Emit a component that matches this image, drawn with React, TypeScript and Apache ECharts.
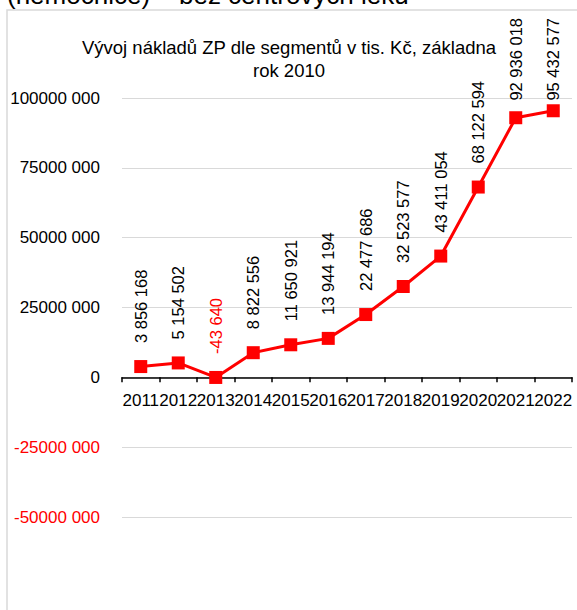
import React, { useEffect, useRef } from "react";
import * as echarts from "echarts";

const years = ["2011", "2012", "2013", "2014", "2015", "2016", "2017", "2018", "2019", "2020", "2021", "2022"];
const costs = [3856168, 5154502, -43640, 8822556, 11650921, 13944194, 22477686, 32523577, 43411054, 68122594, 92936018, 95432577];
const yTicks = { min: -50000000, max: 100000000, interval: 25000000 };
const titleLines = ["Vývoj nákladů ZP dle segmentů v tis. Kč, základna", "rok 2010"];
const headerText = "(nemocnice) – bez centrových léků";

const FONT = "'Liberation Sans', Arial, sans-serif";
const RED = "#ff0000";

function groupSpaces(v: number): string {
  const s = Math.abs(Math.round(v)).toString().replace(/\B(?=(\d{3})+(?!\d))/g, " ");
  return (v < 0 ? "-" : "") + s;
}

function axisFmt(v: number): string {
  if (v === 0) return "0";
  const a = Math.abs(v);
  const hi = Math.floor(a / 1000);
  const lo = (a % 1000).toString().padStart(3, "0");
  return (v < 0 ? "-" : "") + hi + " " + lo;
}

export default function App() {
  const ref = useRef<HTMLDivElement>(null);
  useEffect(() => {
    if (!ref.current) return;
    const chart = echarts.init(ref.current, null, { renderer: "svg" });
    const LABEL_SIZE = 16.5;
    const baseDist = 17;
    const symbol = 13;
    const topLimit = 18;

    const makeData = (dists: number[]) =>
      costs.map((v, i) => ({
        value: v,
        label: { color: v < 0 ? RED : "#000", distance: dists[i] },
      }));

    const option: any = {
      animation: false,
      backgroundColor: "#fff",
      textStyle: { fontFamily: FONT },
      grid: { left: 122, right: 5, top: 98, bottom: 93, containLabel: false },
      graphic: [
        {
          type: "rect",
          z: 0,
          shape: { x: 7, y: 10, width: 700, height: 800 },
          style: { fill: "none", stroke: "#d9d9d9", lineWidth: 1.5 },
        },
        {
          type: "text",
          z: 10,
          x: 7,
          y: -5,
          style: {
            text: headerText,
            fontFamily: FONT,
            fontSize: 26,
            fill: "#000",
            textAlign: "left",
            textVerticalAlign: "middle",
          },
        },
        {
          type: "text",
          z: 10,
          x: 289,
          y: 59,
          style: {
            text: titleLines.join("\n"),
            fontFamily: FONT,
            fontSize: 18.5,
            lineHeight: 23,
            fill: "#000",
            textAlign: "center",
            textVerticalAlign: "middle",
          },
        },
      ],
      xAxis: {
        type: "category",
        data: years,
        boundaryGap: true,
        offset: 0,
        axisLine: { onZero: false, lineStyle: { color: "#000", width: 1.5 } },
        axisTick: { show: true, length: 5, lineStyle: { color: "#000", width: 1.5 } },
        axisLabel: { interval: 0, fontSize: 17, color: "#000", margin: 15, fontFamily: FONT },
        splitLine: { show: false },
      },
      yAxis: {
        type: "value",
        min: yTicks.min,
        max: yTicks.max,
        interval: yTicks.interval,
        axisLine: { show: false },
        axisTick: { show: false },
        axisLabel: {
          fontSize: 17,
          margin: 22,
          fontFamily: FONT,
          formatter: (v: number) => axisFmt(v),
          color: (v: any) => (Number(v) < 0 ? RED : "#000"),
        },
        splitLine: { lineStyle: { color: "#d9d9d9", width: 1 } },
      },
      series: [
        {
          type: "line",
          data: makeData(costs.map(() => baseDist)),
          symbol: "rect",
          symbolSize: symbol,
          showAllSymbol: true,
          lineStyle: { color: RED, width: 3 },
          itemStyle: { color: RED },
          label: {
            show: true,
            position: "top",
            rotate: 90,
            align: "left",
            verticalAlign: "middle",
            fontSize: LABEL_SIZE,
            fontFamily: FONT,
            formatter: (p: any) => groupSpaces(p.value),
          },
          z: 5,
        },
      ],
    };
    chart.setOption(option);

    // move the category axis (line, ticks and labels) onto the zero line
    const zeroY = (chart.convertToPixel({ yAxisIndex: 0 }, 0) as number);
    const minY = (chart.convertToPixel({ yAxisIndex: 0 }, yTicks.min) as number);
    const axisOffset = zeroY - minY;

    // keep rotated value labels inside the chart area (clamped at the top like the original)
    const ctx = document.createElement("canvas").getContext("2d");
    let dists = costs.map(() => baseDist);
    if (ctx) {
      ctx.font = `${LABEL_SIZE}px 'Liberation Sans'`;
      dists = costs.map((v, i) => {
        const px = chart.convertToPixel({ seriesIndex: 0 }, [i, v]) as number[];
        const w = ctx.measureText(groupSpaces(v)).width;
        const room = px[1] - symbol / 2 - topLimit - w;
        return Math.max(2, Math.min(baseDist, room));
      });
    }
    chart.setOption({
      xAxis: { offset: axisOffset },
      series: [{ data: makeData(dists) }],
    });

    return () => chart.dispose();
  }, []);

  return (
    <div
      ref={ref}
      style={{ position: "absolute", left: 0, top: 0, width: 577, height: 610 }}
    />
  );
}
